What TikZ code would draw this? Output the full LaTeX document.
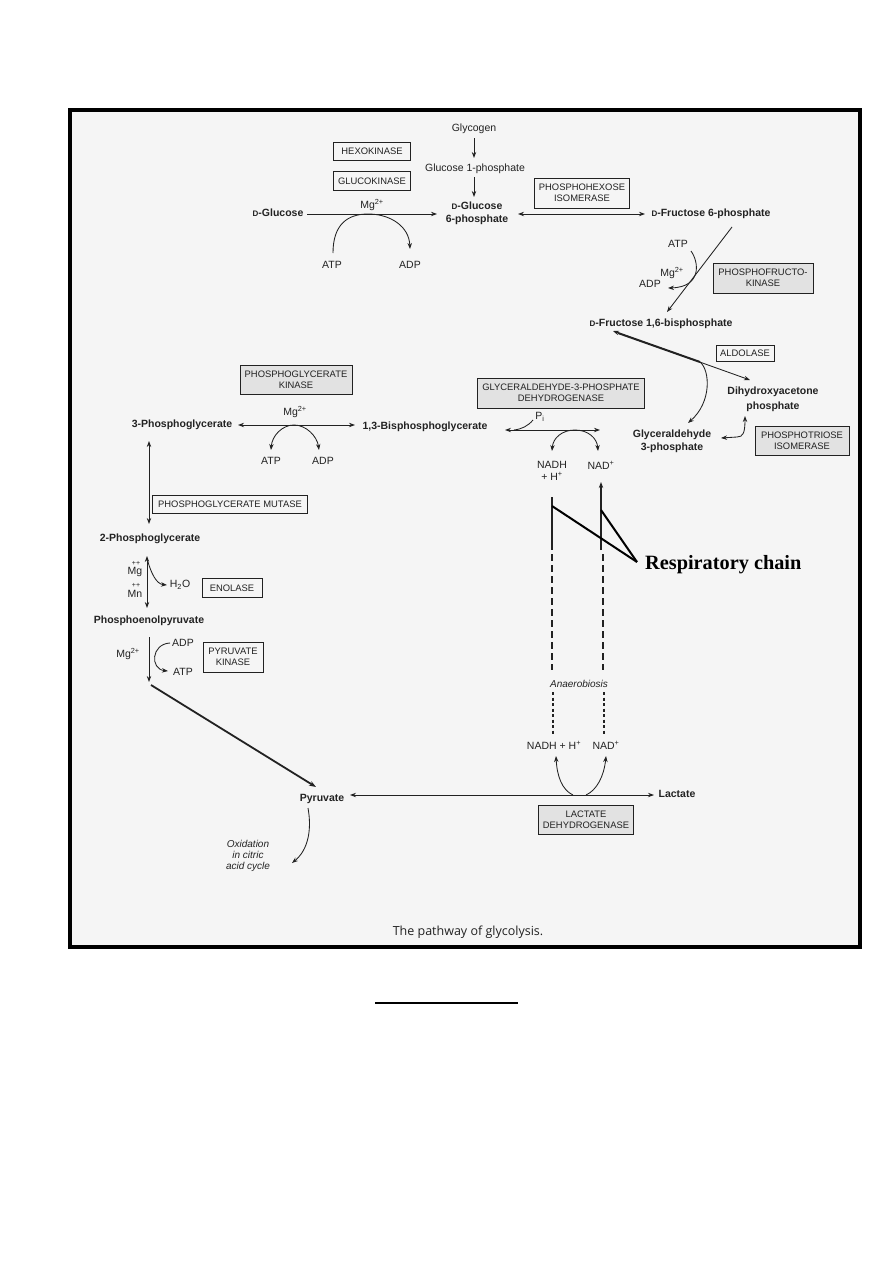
\documentclass[tikz,border=0pt]{standalone}
\usepackage{fontspec}
\setmainfont{Liberation Sans}
\newfontfamily\capfont{Open Sans}
\newfontfamily\rcfont{Liberation Serif}
\usetikzlibrary{arrows.meta}
\definecolor{ink}{HTML}{222222}
\definecolor{paper}{HTML}{F5F5F5}
\definecolor{shade}{HTML}{E2E2E2}
\newcommand\scD{{\fontsize{8}{8}\selectfont D}}
\begin{document}
\begin{tikzpicture}[x=1pt,y=-1pt,
  met/.style={font=\fontsize{10.5}{13}\selectfont\bfseries, text=ink, inner sep=0pt, align=center},
  lab/.style={font=\fontsize{10.5}{12}\selectfont, text=ink, inner sep=0pt, align=center},
  sml/.style={font=\fontsize{7}{7}\selectfont, text=ink, inner sep=0pt},
  ital/.style={font=\fontsize{10}{11}\selectfont\itshape, text=ink, inner sep=0pt, align=center},
  enz/.style={draw=ink, line width=0.9pt, font=\fontsize{9.4}{11}\selectfont, text=ink, inner sep=0pt, align=center, fill=paper},
  enzs/.style={enz, fill=shade},
  tip/.tip={Stealth[length=6pt,width=4.4pt]},
  rx/.style={draw=ink, line width=0.85pt, -tip},
  rxx/.style={draw=ink, line width=0.85pt, tip-tip},
  ln/.style={draw=ink, line width=0.85pt},
  thick2/.style={draw=ink, line width=2pt},
  dashA/.style={draw=ink, line width=1.3pt, dash pattern=on 7pt off 4pt},
  dashB/.style={draw=ink, line width=1.1pt, dash pattern=on 3pt off 2.5pt}
]
\useasboundingbox (0,0) rectangle (893,1263);
\fill[white] (0,0) rectangle (893,1263);
\draw[line width=4pt, fill=paper] (70,110) rectangle (860,947);

% ---------- metabolites ----------
\node[lab] (glyc) at (474,129) {Glycogen};
\node[lab] (g1p) at (475,169) {Glucose 1-phosphate};
\node[met] (g6p) at (477,213) {\scD-Glucose\\6-phosphate};
\node[met] (glc) at (278,213) {\scD-Glucose};
\node[met] (f6p) at (711,214) {\scD-Fructose 6-phosphate};
\node[met] (fbp) at (661,324) {\scD-Fructose 1,6-bisphosphate};
\node[met, font=\fontsize{10.5}{15}\selectfont\bfseries] (dhap) at (773,399) {Dihydroxyacetone\\phosphate};
\node[met] (gap) at (672,441) {Glyceraldehyde\\3-phosphate};
\node[met] (pg3) at (182,425) {3-Phosphoglycerate};
\node[met] (bpg) at (425,427) {1,3-Bisphosphoglycerate};
\node[met] (pg2) at (150,539) {2-Phosphoglycerate};
\node[met] (pep) at (149,621) {Phosphoenolpyruvate};
\node[met] (pyr) at (322,799) {Pyruvate};
\node[met] (lac) at (677,794) {Lactate};

% ---------- enzymes ----------
\node[enz, minimum width=77pt, minimum height=18pt] (hk) at (372,151) {HEXOKINASE};
\node[enz, minimum width=77pt, minimum height=19pt] (gk) at (372,181) {GLUCOKINASE};
\node[enz, minimum width=95pt, minimum height=30pt] (phi) at (582,193) {PHOSPHOHEXOSE\\ISOMERASE};
\node[enzs, minimum width=100pt, minimum height=30pt] (pfk) at (763,278) {PHOSPHOFRUCTO-\\KINASE};
\node[enz, minimum width=58pt, minimum height=16pt] (ald) at (745,353) {ALDOLASE};
\node[enzs, minimum width=167pt, minimum height=30pt] (gapdh) at (561,393) {GLYCERALDEHYDE-3-PHOSPHATE\\DEHYDROGENASE};
\node[enzs, minimum width=94pt, minimum height=29pt] (tpi) at (802,441) {PHOSPHOTRIOSE\\ISOMERASE};
\node[enzs, minimum width=112pt, minimum height=29pt] (pgk) at (296,380) {PHOSPHOGLYCERATE\\KINASE};
\node[enz, minimum width=155pt, minimum height=18pt] (pgm) at (230,504) {PHOSPHOGLYCERATE MUTASE};
\node[enz, minimum width=60pt, minimum height=19pt] (eno) at (232,588) {ENOLASE};
\node[enz, minimum width=60pt, minimum height=30pt] (pk) at (233,657) {PYRUVATE\\KINASE};
\node[enzs, minimum width=95pt, minimum height=29pt] (ldh) at (586,820) {LACTATE\\DEHYDROGENASE};

% ---------- cofactor labels ----------
\node[lab] (hkMg) at (372,205) {Mg\textsuperscript{2+}};
\node[lab] (hkATP) at (332,265) {ATP};
\node[lab] (hkADP) at (410,265) {ADP};
\node[lab] (pfkATP) at (678,244) {ATP};
\node[lab] (pfkMg) at (672,273) {Mg\textsuperscript{2+}};
\node[lab] (pfkADP) at (650,284) {ADP};
\node[lab] (pgkMg) at (295,412) {Mg\textsuperscript{2+}};
\node[lab] (pgkATP) at (271,461) {ATP};
\node[lab] (pgkADP) at (323,461) {ADP};
\node[lab] (pi) at (540,417) {P\textsubscript{i}};
\node[lab] (nadh1) at (552,471) {NADH\\+ H\textsuperscript{+}};
\node[lab] (nad1) at (601,465) {NAD\textsuperscript{+}};
\node[lab] (enoMg) at (135,572) {Mg};
\node[sml] (enoMgp) at (136,563) {++};
\node[lab] (enoMn) at (135,594) {Mn};
\node[sml] (enoMnp) at (136,585) {++};
\node[lab] (h2o) at (180,585) {H\textsubscript{2}O};
\node[lab] (pkMg) at (128,654) {Mg\textsuperscript{2+}};
\node[lab] (pkADP) at (183,643) {ADP};
\node[lab] (pkATP) at (183,672) {ATP};
\node[lab] (nadh2) at (554,745) {NADH + H\textsuperscript{+}};
\node[lab] (nad2) at (606,745) {NAD\textsuperscript{+}};
\node[ital] (anaer) at (579,684) {Anaerobiosis};
\node[ital] (oxid) at (248,856) {Oxidation\\in citric\\acid cycle};
\node[font=\rcfont\fontsize{20.3}{22}\selectfont\bfseries, inner sep=0pt, anchor=west] (resp) at (645,565) {Respiratory chain};
\node[font=\capfont\fontsize{12.5}{14}\selectfont, text=ink, inner sep=0pt] (cap) at (468,932) {The pathway of glycolysis.};

% ---------- coordinates ----------
\coordinate (a1) at (474,138); \coordinate (a2) at (474,158);
\coordinate (b1) at (474,177); \coordinate (b2) at (474,197);
\coordinate (c1) at (307,214); \coordinate (c2) at (437,214);
\coordinate (d1) at (518,214); \coordinate (d2) at (645,214);
\coordinate (e1) at (732,227); \coordinate (e2) at (667,312);
\coordinate (f1) at (613,331); \coordinate (f2) at (750,380); \coordinate (fm) at (700,362);
\coordinate (g1) at (721,438); \coordinate (g2) at (745,416);
\coordinate (h1) at (505,430); \coordinate (h2) at (600,430); \coordinate (hp) at (575,430);
\coordinate (i1) at (238,425); \coordinate (i2) at (355,425); \coordinate (ip) at (294,425);
\coordinate (j1) at (149,441); \coordinate (j2) at (149,524);
\coordinate (k1) at (147,556); \coordinate (k2) at (147,608);
\coordinate (l1) at (149,637); \coordinate (l2) at (149,682);
\coordinate (m1) at (151,685); \coordinate (m2) at (316,787);
\coordinate (n1) at (350,795); \coordinate (n2) at (654,795);
\coordinate (lnL) at (552,497); \coordinate (lnLb) at (552,550);
\coordinate (lnR) at (601,482); \coordinate (lnRb) at (601,550);
\coordinate (rc) at (637,562);
\coordinate (ul1) at (375,1003); \coordinate (ul2) at (518,1003);

% ---------- main reactions ----------
\draw[rx] (a1) -- (a2);
\draw[rx] (b1) -- (b2);
\draw[rx] (c1) -- (c2);
\draw[rxx] (d1) -- (d2);
\draw[rx] (e1) -- (e2);
\draw[rxx] (f1) -- (f2);
\draw[thick2] (618,333) -- (fm);
\draw[rx] (fm) .. controls (710,370) and (712,402) .. (688,423);
\draw[rxx] (g1) -- (737,437) .. controls (743,437) and (745,433) .. (g2);
\draw[rxx] (h1) -- (h2);
\draw[ln] (533,420) .. controls (528,426) and (522,429) .. (514,430);
\draw[rx] (hp) .. controls (562,430) and (553,438) .. (552,451);
\draw[rx] (hp) .. controls (588,430) and (597,438) .. (598,451);
\draw[rxx] (i1) -- (i2);
\draw[rx] (ip) .. controls (282,425) and (272,436) .. (271,450);
\draw[rx] (ip) .. controls (306,425) and (317,436) .. (319,450);
\draw[rxx] (j1) -- (j2);
\draw[rxx] (k1) -- (k2);
\draw[rx] (l1) -- (l2);
\draw[draw=ink, line width=1.8pt, -{Stealth[length=7pt,width=5pt]}] (m1) -- (m2);
\draw[rxx] (n1) -- (n2);

% ---------- cofactor curves ----------
\draw[rx] (333,253) .. controls (333,224) and (348,214) .. (368,214) .. controls (390,214) and (409,226) .. (410,249);
\draw[rx] (691,251) .. controls (699,262) and (702,287) .. (668,288);
\draw[rx] (148,562) .. controls (151,572) and (156,584) .. (167,585);
\draw[rx] (170,643) .. controls (151,644) and (150,669) .. (168,671);
\draw[rx] (573,795) .. controls (562,790) and (557,776) .. (556,756);
\draw[rx] (586,795) .. controls (597,790) and (604,776) .. (606,756);
\draw[rx] (308,808) .. controls (312,830) and (308,850) .. (292,863);

% ---------- NADH / NAD shuttle ----------
\draw[ln, line width=1.1pt] (lnL) -- (lnLb);
\draw[rx, line width=1.1pt] (lnRb) -- (lnR);
\draw[dashA] (552,554) -- (552,670);
\draw[dashA] (603,554) -- (603,670);
\draw[dashB] (553,692) -- (553,734);
\draw[dashB] (604,692) -- (604,734);
\draw[draw=black, line width=2pt] (rc) -- (552,506);
\draw[draw=black, line width=2pt] (rc) -- (601,510);

% ---------- underline ----------
\draw[draw=black, line width=1.8pt] (ul1) -- (ul2);
\end{tikzpicture}
\end{document}
